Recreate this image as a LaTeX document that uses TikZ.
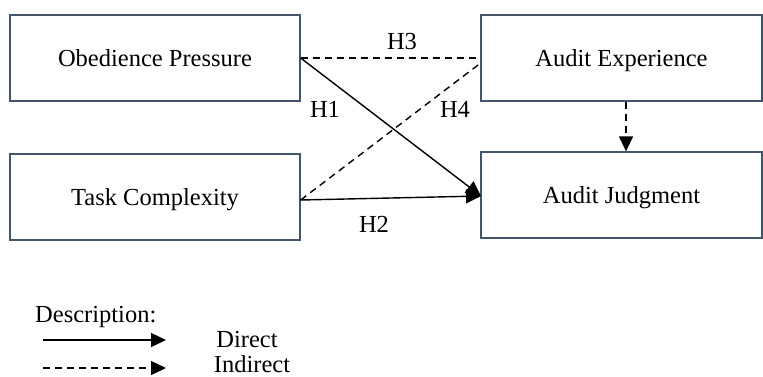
\documentclass[tikz,border=0pt]{standalone}
\usepackage{fontspec}
\setmainfont{Liberation Serif}
\usetikzlibrary{arrows.meta}
\begin{document}
\begin{tikzpicture}[x=1pt,y=-1pt,
  box/.style={draw=boxcol,line width=1.3pt,inner sep=0pt,text height=17pt,text depth=0pt,font=\fontsize{24.5}{28}\selectfont},
  lbl/.style={inner sep=0pt,anchor=base,font=\fontsize{24.5}{28}\selectfont},
  conn/.style={line width=1.4pt},
  tip/.style={-{Triangle[length=15pt,width=14pt]}},
  dsh/.style={dash pattern=on 7pt off 5pt}]
\definecolor{boxcol}{HTML}{44546A}
\useasboundingbox (0,0) rectangle (763,376);
\node[box,minimum width=290pt,minimum height=86pt] (op) at (155,58) {Obedience Pressure};
\node[box,minimum width=290pt,minimum height=86pt] (tc) at (155,197) {Task Complexity};
\node[box,minimum width=281pt,minimum height=86pt] (ae) at (621.5,58) {Audit Experience};
\node[box,minimum width=281pt,minimum height=86pt] (aj) at (621.5,195) {Audit Judgment};
\coordinate (ajin) at (481,196);
\coordinate (aein) at (482,62);
\draw[conn,dsh] (op.east) -- (ae.west);
\draw[conn,dsh] (tc.east |- 0,200) -- (aein);
\draw[conn,tip] (op.east) -- (ajin);
\draw[conn,tip] (tc.east |- 0,200) -- (ajin);
\draw[conn,dsh,tip] (ae.south -| 626,0) -- (aj.north -| 626,0);
\node[lbl] (h3) at (402,49) {H3};
\node[lbl] (h1) at (325,117) {H1};
\node[lbl] (h4) at (455,117) {H4};
\node[lbl] (h2) at (374,232) {H2};
\node[lbl,anchor=base west] (desc) at (35,322) {Description:};
\coordinate (d1a) at (43,340);
\coordinate (d1b) at (166,340);
\coordinate (d2a) at (43,368);
\coordinate (d2b) at (166,368);
\draw[conn,tip] (d1a) -- (d1b);
\draw[conn,dsh,tip] (d2a) -- (d2b);
\node[lbl] (direct) at (247,347) {Direct};
\node[lbl] (indirect) at (252,372) {Indirect};
\end{tikzpicture}
\end{document}
